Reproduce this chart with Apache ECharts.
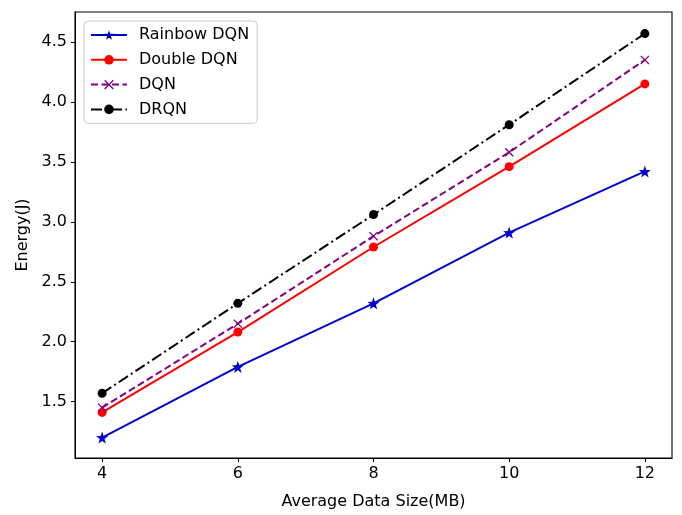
<!DOCTYPE html>
<html>
<head>
<meta charset="utf-8">
<script src="https://cdn.jsdelivr.net/npm/echarts@6/dist/echarts.min.js"></script>
<style>
html,body{margin:0;padding:0;background:#fff;}
#chart{width:682px;height:515px;}
</style>
</head>
<body>
<div id="chart"></div>
<script>
var dataSize = [4, 6, 8, 10, 12];
var rainbowDQN = [1.20, 1.79, 2.32, 2.91, 3.42];
var doubleDQN = [1.41, 2.08, 2.79, 3.46, 4.15];
var dqn = [1.45, 2.15, 2.88, 3.58, 4.35];
var drqn = [1.57, 2.32, 3.06, 3.81, 4.57];
var xTicks = [4, 6, 8, 10, 12];
var yTicks = [1.5, 2.0, 2.5, 3.0, 3.5, 4.0, 4.5];

var starPath = 'path://M0,-10 L2.35,-3.24 L9.51,-3.09 L3.8,1.24 L5.88,8.09 L0,4 L-5.88,8.09 L-3.8,1.24 L-9.51,-3.09 L-2.35,-3.24 Z';
var crossPath = 'path://M-10,-8 L-8,-10 L0,-2 L8,-10 L10,-8 L2,0 L10,8 L8,10 L0,2 L-8,10 L-10,8 L-2,0 Z';

function pairs(ys) {
	return dataSize.map(function (x, i) { return [x, ys[i]]; });
}

var font = 'DejaVu Sans';
var myChart = echarts.init(document.getElementById('chart'));

var option = {
	animation: false,
	textStyle: { fontFamily: font },
	grid: {
		left: 75, right: 10, top: 12, bottom: 57,
		show: true, borderColor: '#000', borderWidth: 1.1
	},
	legend: {
		left: 84, top: 21,
		orient: 'vertical',
		itemWidth: 36, itemHeight: 12,
		itemGap: 8.8,
		padding: [6, 8, 6, 6],
		backgroundColor: 'rgba(255,255,255,0.8)',
		borderColor: '#cccccc', borderWidth: 1, borderRadius: 4,
		textStyle: { fontFamily: font, fontSize: 16, color: '#000', padding: [0, 0, 0, 7] },
		data: ['Rainbow DQN', 'Double DQN', 'DQN', 'DRQN']
	},
	xAxis: {
		type: 'value',
		min: 3.6, max: 12.4,
		name: 'Average Data Size(MB)',
		nameLocation: 'middle', nameGap: 36,
		nameTextStyle: { fontFamily: font, fontSize: 16, color: '#000' },
		splitLine: { show: false },
		axisLine: { lineStyle: { color: '#000' } },
		axisTick: { show: true, length: 4, lineStyle: { color: '#000' }, customValues: xTicks },
		axisLabel: { fontFamily: font, fontSize: 16, color: '#000', margin: 8, customValues: xTicks }
	},
	yAxis: {
		type: 'value',
		min: 1.03, max: 4.75,
		name: 'Energy(J)',
		nameLocation: 'middle', nameGap: 44,
		nameTextStyle: { fontFamily: font, fontSize: 16, color: '#000' },
		splitLine: { show: false },
		axisLine: { show: true, lineStyle: { color: '#000' } },
		axisTick: { show: true, length: 4, lineStyle: { color: '#000' }, customValues: yTicks },
		axisLabel: {
			fontFamily: font, fontSize: 16, color: '#000', margin: 8, customValues: yTicks,
			formatter: function (v) { return v.toFixed(1); }
		}
	},
	series: [
		{
			name: 'Rainbow DQN', type: 'line', data: pairs(rainbowDQN),
			symbol: starPath, symbolSize: 12,
			lineStyle: { color: '#0000cd', width: 2 },
			itemStyle: { color: '#0000cd' }
		},
		{
			name: 'Double DQN', type: 'line', data: pairs(doubleDQN),
			symbol: 'circle', symbolSize: 9,
			lineStyle: { color: '#ff0000', width: 2 },
			itemStyle: { color: '#ff0000' }
		},
		{
			name: 'DQN', type: 'line', data: pairs(dqn),
			symbol: crossPath, symbolSize: 9,
			lineStyle: { color: '#800080', width: 2, type: [7, 3.5] },
			itemStyle: { color: '#800080' }
		},
		{
			name: 'DRQN', type: 'line', data: pairs(drqn),
			symbol: 'circle', symbolSize: 9,
			lineStyle: { color: '#000000', width: 2, type: [11, 3.5, 2, 3.5] },
			itemStyle: { color: '#000000' }
		}
	]
};

myChart.setOption(option);
</script>
</body>
</html>
